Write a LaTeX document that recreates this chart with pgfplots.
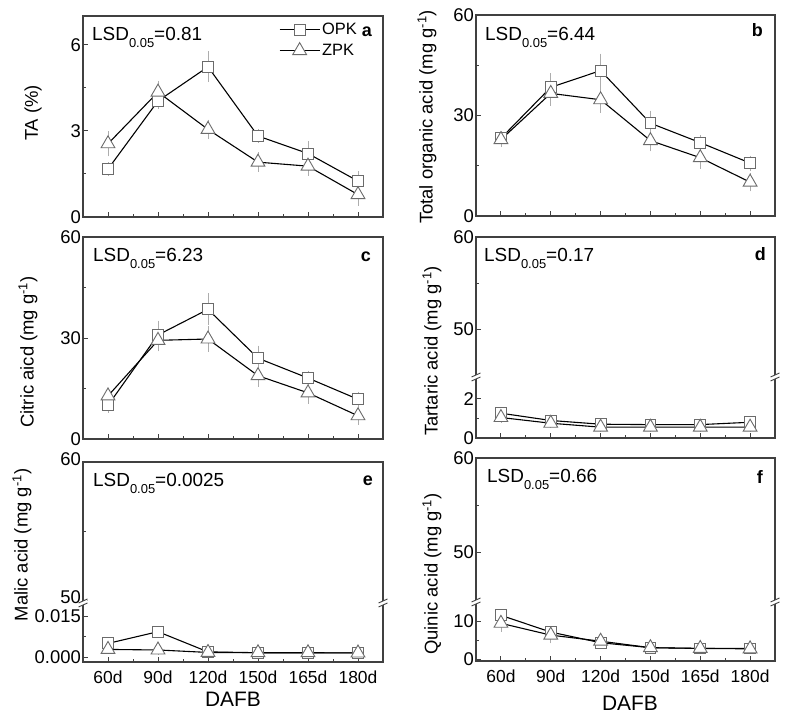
\documentclass[border=0pt]{standalone}
\usepackage{fontspec}
\setmainfont{Liberation Sans}
\usepackage{pgfplots}
\pgfplotsset{compat=1.18}

\newcommand{\fs}[1]{\fontsize{#1}{#1}\selectfont}
\newcommand{\lsd}[1]{LSD\raisebox{-7bp}{\fs{13}0.05}=#1}
\definecolor{mk}{gray}{0.42}
\definecolor{eb}{gray}{0.68}
\definecolor{ax}{gray}{0.25}

\pgfplotsset{
  panel/.style={scale only axis, anchor=south west,
    xmin=-0.5, xmax=5.5, xtick={0,...,5}, xticklabels={},
    minor x tick num=1, minor y tick num=1,
    scaled y ticks=false,
    tick align=inside, xtick pos=bottom, ytick pos=left,
    major tick length=4.5bp, minor tick length=2.5bp,
    axis line style={ax, line width=1.1pt},
    tick style={ax, line width=0.9pt},
    yticklabel style={font=\fs{18.5}, inner xsep=2bp, inner ysep=0pt},
    xticklabel style={font=\fs{17.5}, yshift=-5bp},
    clip=false},
  lower/.style={panel, axis line style={draw=none}},
  upper/.style={panel, axis line style={draw=none}, xtick=\empty},
  errs/.style={error bars/.cd, y dir=both, y explicit,
    error bar style={eb, line width=0.6pt},
    error mark options={eb, mark size=2.5pt, line width=0.6pt}},
  opk/.style={black, line width=1.1pt, mark=square*, mark size=5.5pt,
    mark options={draw=mk, fill=white, line width=0.9pt, solid}, errs},
  zpk/.style={black, line width=1.1pt, mark=triangle*, mark size=8pt,
    mark options={draw=mk, fill=white, line width=0.9pt, solid}, errs},
}
% frame pieces for the broken axes
\newcommand{\lowframe}{\draw[ax, line width=1.1pt] (rel axis cs:0,1) -- (rel axis cs:0,0) -- (rel axis cs:1,0) -- (rel axis cs:1,1);}
\newcommand{\upframe}{\draw[ax, line width=1.1pt] (rel axis cs:0,0) -- (rel axis cs:0,1) -- (rel axis cs:1,1) -- (rel axis cs:1,0);}
\newcommand{\brk}[2]{%
  \fill[white] (#1-4.5,#2-4) -- (#1+4.5,#2) -- (#1+4.5,#2+4) -- (#1-4.5,#2) -- cycle;
  \draw[ax, line width=0.9pt] (#1-4.5,#2-4) -- (#1+4.5,#2);
  \draw[ax, line width=0.9pt] (#1-4.5,#2) -- (#1+4.5,#2+4);}

\begin{document}
\begin{tikzpicture}[x=1bp, y=1bp]
\useasboundingbox (0,0) rectangle (787,717);

% ---------- a: TA
\begin{axis}[panel, at={(83bp,500bp)}, width=300bp, height=201bp,
    ymin=0, ymax=7, ytick={0,3,6}, yticklabels={0,3,6},
    legend style={at={(0.653,0.975)}, anchor=north west, draw=none, fill=none,
      inner sep=0pt, font=\fs{16.5}, row sep=4bp, nodes={inner sep=2bp}},
    legend cell align=left,
    legend image code/.code={\draw[mark repeat=2, mark phase=2, #1]
      plot coordinates {(0bp,0bp) (20bp,0bp) (40bp,0bp)};}]
\addplot[opk] coordinates {(0,1.67) +- (0,0.15) (1,4.04) +- (0,0.2) (2,5.23) +- (0,0.45)
  (3,2.82) +- (0,0.15) (4,2.21) +- (0,0.35) (5,1.25) +- (0,0.25)};
\addlegendentry{OPK}
\addplot[zpk] coordinates {(0,2.55) +- (0,0.35) (1,4.35) +- (0,0.3) (2,3.05) +- (0,0.25)
  (3,1.91) +- (0,0.25) (4,1.77) +- (0,0.25) (5,0.78) +- (0,0.3)};
\addlegendentry{ZPK}
\end{axis}

% ---------- b: total organic acid
\begin{axis}[panel, at={(476bp,501bp)}, width=299bp, height=201bp,
    ymin=0, ymax=60, ytick={0,30,60}, yticklabels={0,30,60}]
\addplot[opk] coordinates {(0,23.2) +- (0,1.5) (1,38.4) +- (0,3.5) (2,43.4) +- (0,4.3)
  (3,27.7) +- (0,3) (4,21.9) +- (0,1.5) (5,15.8) +- (0,1.5)};
\addplot[zpk] coordinates {(0,22.8) +- (0,1.5) (1,36.6) +- (0,3) (2,34.7) +- (0,3.2)
  (3,22.5) +- (0,2.5) (4,17.4) +- (0,2.5) (5,10.1) +- (0,2)};
\end{axis}

% ---------- c: citric acid
\begin{axis}[panel, at={(83bp,278bp)}, width=300bp, height=202bp,
    ymin=0, ymax=60, ytick={0,30,60}, yticklabels={0,30,60}]
\addplot[opk] coordinates {(0,10.0) +- (0,1.5) (1,30.9) +- (0,3.5) (2,38.5) +- (0,4)
  (3,24.0) +- (0,3) (4,18.1) +- (0,1.5) (5,11.8) +- (0,1.5)};
\addplot[zpk] coordinates {(0,12.8) +- (0,1.5) (1,29.3) +- (0,2.5) (2,29.7) +- (0,3)
  (3,18.8) +- (0,2.5) (4,13.7) +- (0,2.5) (5,6.9) +- (0,2)};
\end{axis}

% ---------- d: tartaric acid (broken axis)
\begin{axis}[lower, at={(476bp,279bp)}, width=299bp, height=61bp,
    ymin=0, ymax=3.1, ytick={0,2}, yticklabels={0,2}]
\lowframe
\addplot[opk] coordinates {(0,1.26) +- (0,0.15) (1,0.89) +- (0,0.1) (2,0.70) +- (0,0.1)
  (3,0.68) +- (0,0.1) (4,0.68) +- (0,0.1) (5,0.80) +- (0,0.1)};
\addplot[zpk] coordinates {(0,1.04) +- (0,0.15) (1,0.75) +- (0,0.1) (2,0.55) +- (0,0.1)
  (3,0.55) +- (0,0.1) (4,0.55) +- (0,0.1) (5,0.55) +- (0,0.1)};
\end{axis}
\begin{axis}[upper, at={(476bp,340bp)}, width=299bp, height=140bp,
    ymin=44.8, ymax=60, ytick={50,60}, yticklabels={50,60}]
\upframe
\end{axis}

% ---------- e: malic acid (broken axis)
\begin{axis}[lower, at={(83bp,55bp)}, width=300bp, height=59bp,
    ymin=-0.0018, ymax=0.0198, ytick={0,0.015}, yticklabels={0.000,0.015},
    xticklabels={60d,90d,120d,150d,165d,180d}]
\lowframe
\addplot[opk] coordinates {(0,0.0050) +- (0,0.0008) (1,0.0093) +- (0,0.0012) (2,0.0019) +- (0,0.0008)
  (3,0.0016) +- (0,0.0008) (4,0.0016) +- (0,0.0008) (5,0.0015) +- (0,0.0008)};
\addplot[zpk] coordinates {(0,0.0028) +- (0,0.0008) (1,0.0026) +- (0,0.0008) (2,0.0017) +- (0,0.0008)
  (3,0.0016) +- (0,0.0008) (4,0.0016) +- (0,0.0008) (5,0.0015) +- (0,0.0008)};
\end{axis}
\begin{axis}[upper, at={(83bp,114bp)}, width=300bp, height=141bp,
    ymin=49.8, ymax=60, ytick={50,60}, yticklabels={50,60},
    yticklabel style={yshift=3bp}]
\upframe
\end{axis}

% ---------- f: quinic acid (broken axis)
\begin{axis}[lower, at={(476bp,56bp)}, width=299bp, height=59bp,
    ymin=-0.5, ymax=15, ytick={0,10}, yticklabels={0,10},
    xticklabels={60d,90d,120d,150d,165d,180d}]
\lowframe
\addplot[opk] coordinates {(0,11.5) +- (0,1) (1,7.1) +- (0,1) (2,4.3) +- (0,1)
  (3,3.0) +- (0,0.5) (4,2.8) +- (0,0.5) (5,2.8) +- (0,0.5)};
\addplot[zpk] coordinates {(0,9.4) +- (0,1.5) (1,6.3) +- (0,1.5) (2,4.7) +- (0,1)
  (3,3.0) +- (0,0.5) (4,2.8) +- (0,0.5) (5,2.7) +- (0,0.5)};
\end{axis}
\begin{axis}[upper, at={(476bp,115bp)}, width=299bp, height=144bp,
    ymin=44.7, ymax=60, ytick={50,60}, yticklabels={50,60}]
\upframe
\end{axis}

% axis breaks
\brk{476}{340}\brk{775}{340}
\brk{83}{114}\brk{383}{114}
\brk{476}{115}\brk{775}{115}

% y labels
\node[rotate=90, font=\fs{18.5}] at (33,604) {TA (\%)};
\node[rotate=90, font=\fs{18.5}] at (427,600) {Total organic acid (mg g\textsuperscript{-1})};
\node[rotate=90, font=\fs{18.5}] at (28,365) {Citric aicd (mg g\textsuperscript{-1})};
\node[rotate=90, font=\fs{18.5}] at (432,366) {Tartaric acid (mg g\textsuperscript{-1})};
\node[rotate=90, font=\fs{18.5}] at (22,172) {Malic acid (mg g\textsuperscript{-1})};
\node[rotate=90, font=\fs{18.5}] at (432,143) {Quinic acid (mg g\textsuperscript{-1})};

% x labels
\node[font=\fs{21}] at (233,18) {DAFB};
\node[font=\fs{21}] at (630,14) {DAFB};

% LSD notes
\node[anchor=base west, inner sep=0, font=\fs{19}] at (92,676) {\lsd{0.81}};
\node[anchor=base west, inner sep=0, font=\fs{19}] at (485,676) {\lsd{6.44}};
\node[anchor=base west, inner sep=0, font=\fs{19}] at (93,455) {\lsd{6.23}};
\node[anchor=base west, inner sep=0, font=\fs{19}] at (484,455) {\lsd{0.17}};
\node[anchor=base west, inner sep=0, font=\fs{19}] at (93,230) {\lsd{0.0025}};
\node[anchor=base west, inner sep=0, font=\fs{19}] at (487,234) {\lsd{0.66}};

% panel letters
\node[anchor=base east, inner sep=0, font=\fs{18}\bfseries] at (372,680) {a};
\node[anchor=base east, inner sep=0, font=\fs{18}\bfseries] at (763,680) {b};
\node[anchor=base east, inner sep=0, font=\fs{18}\bfseries] at (371,455) {c};
\node[anchor=base east, inner sep=0, font=\fs{18}\bfseries] at (766,456) {d};
\node[anchor=base east, inner sep=0, font=\fs{18}\bfseries] at (373,231) {e};
\node[anchor=base east, inner sep=0, font=\fs{18}\bfseries] at (763,233) {f};
\end{tikzpicture}
\end{document}
